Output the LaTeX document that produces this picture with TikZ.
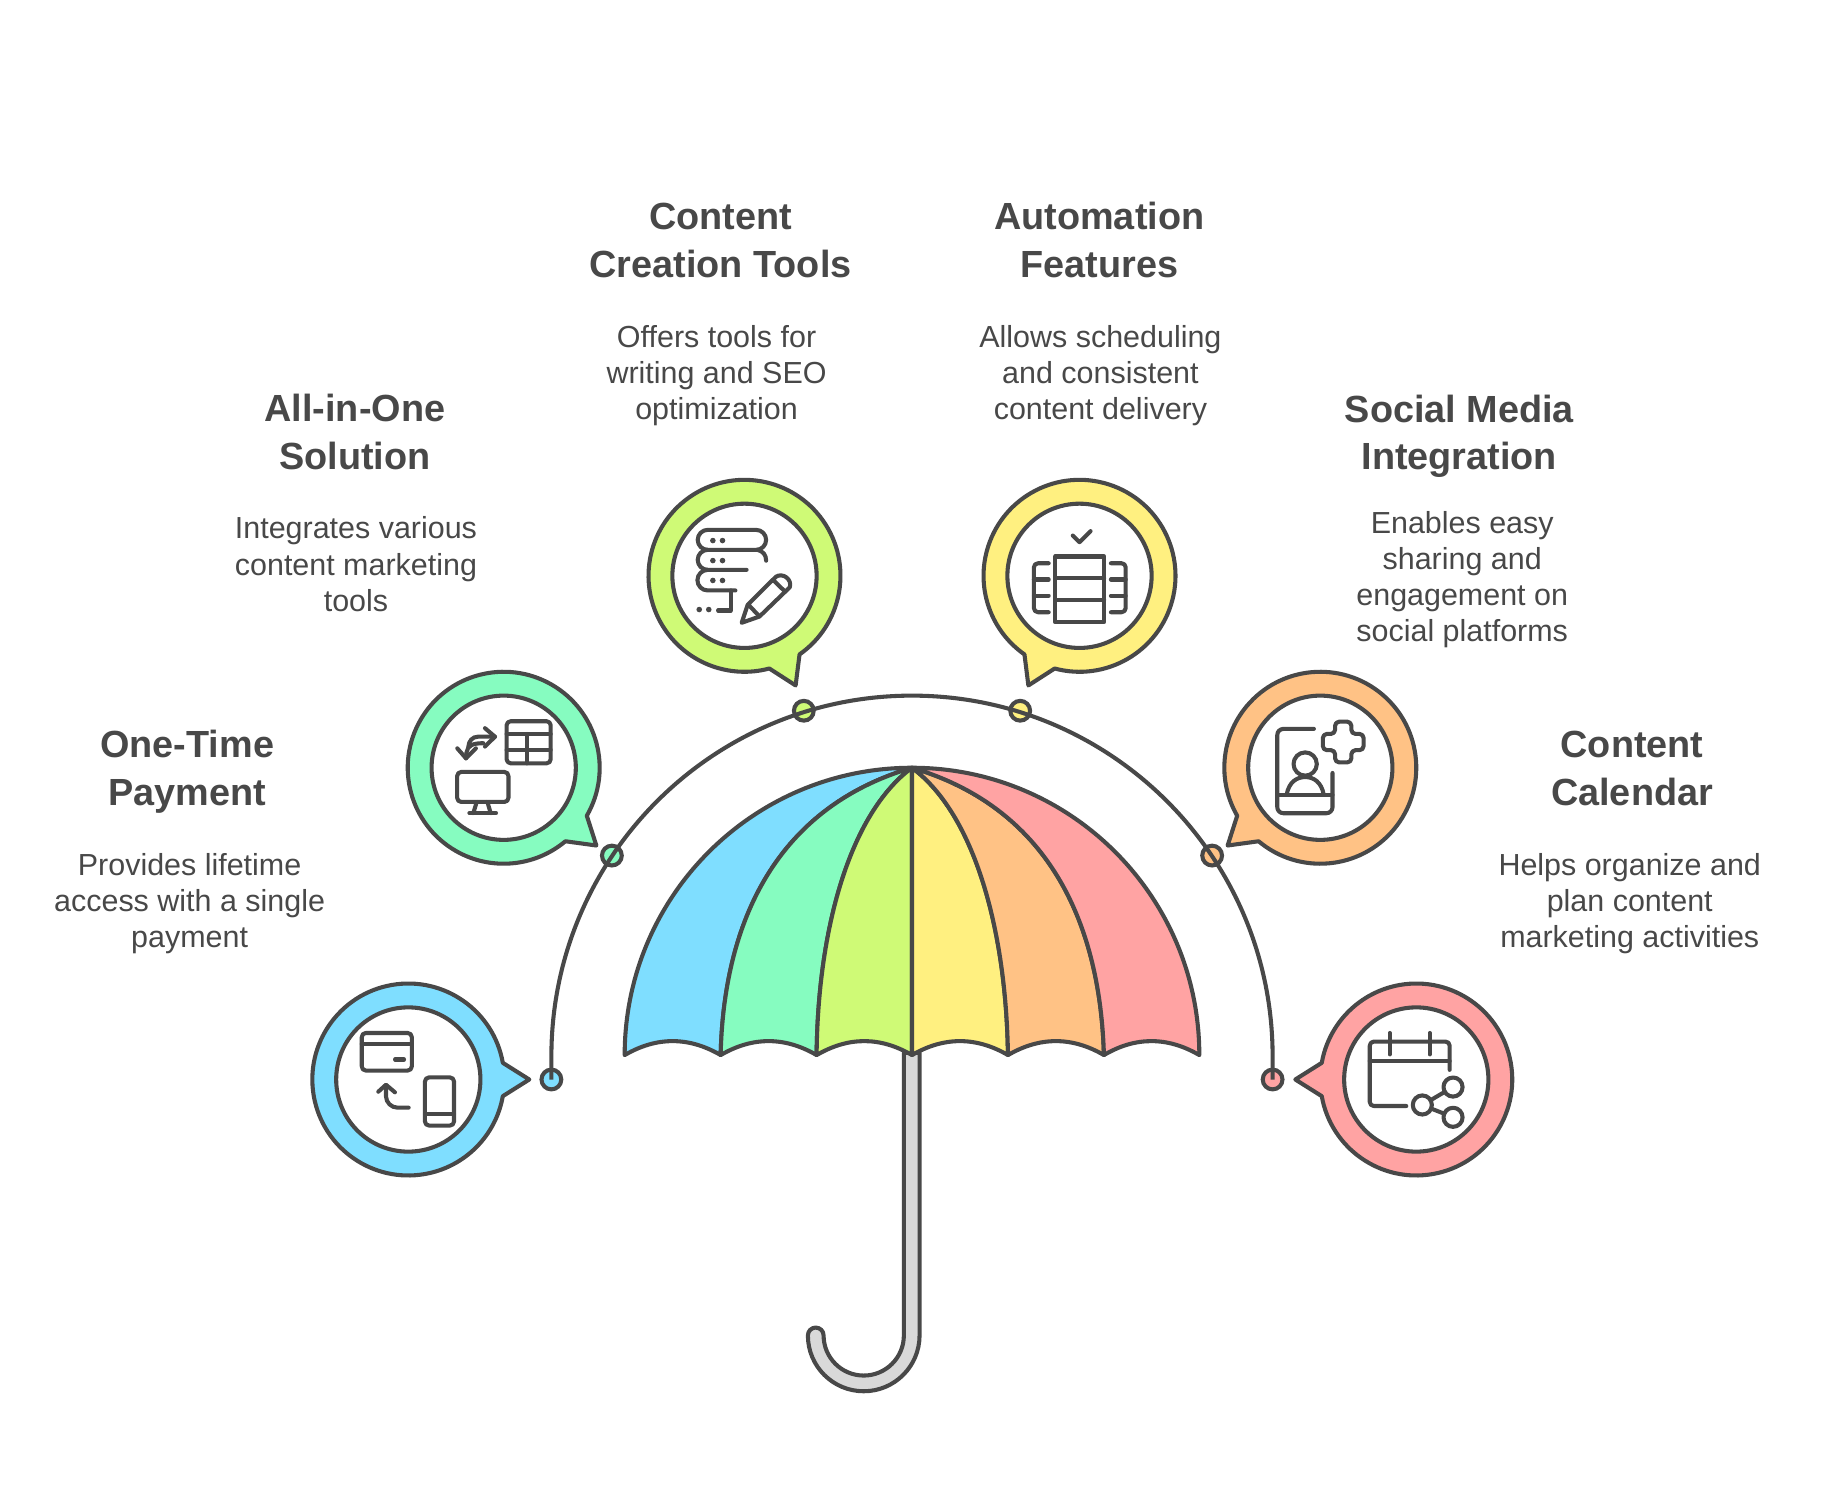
\documentclass[tikz,border=0pt]{standalone}
\usepackage{fontspec}
\setmainfont{Liberation Sans}
\definecolor{inkcol}{HTML}{484848}
\definecolor{payfill}{HTML}{7FDEFF}
\definecolor{allfill}{HTML}{86FCC0}
\definecolor{toolfill}{HTML}{CFFA76}
\definecolor{autofill}{HTML}{FFF080}
\definecolor{socfill}{HTML}{FFC285}
\definecolor{calfill}{HTML}{FFA3A3}
\definecolor{stickfill}{HTML}{D9D9D9}
\tikzset{
  ink/.style={line width=0.35mm, color=inkcol, line join=round},
  icon/.style={ink, line cap=round},
  dotmark/.style={circle, draw=inkcol, line width=0.35mm, inner sep=0pt, minimum size=1.7mm},
  headtext/.style={align=center, text=inkcol, font=\fontsize{9.25}{11.66}\selectfont\bfseries},
  bodytext/.style={align=center, text=inkcol, font=\fontsize{7.45}{8.82}\selectfont},
}
\begin{document}
\begin{tikzpicture}[x=0.1mm, y=0.1mm]
      \useasboundingbox (0, 0) rectangle (1568, 1280);

      % handle
      \draw[ink, fill=stickfill] (777, 375) -- (777, 132) arc (0:-180:34.5) arc (0:180:6.75) arc (180:360:48) -- (790.5, 375) -- cycle;

      % canopy
      \draw[ink, fill=payfill] (537, 373) arc (180:90:247) .. controls (662, 584) and (622, 480) .. (619.5, 373) .. controls (592, 389) and (564.5, 389) .. (537, 373) -- cycle;
      \draw[ink, fill=allfill] (619.5, 373) .. controls (622, 480) and (662, 584) .. (784, 620) .. controls (730, 580) and (703, 480) .. (702, 373) .. controls (674.5, 389) and (647, 389) .. (619.5, 373) -- cycle;
      \draw[ink, fill=toolfill] (702, 373) .. controls (703, 480) and (730, 580) .. (784, 620) -- (784, 373) .. controls (756.5, 389) and (729.5, 389) .. (702, 373) -- cycle;
      \draw[ink, fill=autofill] (866.5, 373) .. controls (865, 480) and (838, 580) .. (784, 620) -- (784, 373) .. controls (811.5, 389) and (839, 389) .. (866.5, 373) -- cycle;
      \draw[ink, fill=socfill] (949, 373) .. controls (946, 480) and (906, 584) .. (784, 620) .. controls (838, 580) and (865, 480) .. (866.5, 373) .. controls (894, 389) and (921.5, 389) .. (949, 373) -- cycle;
      \draw[ink, fill=calfill] (1031, 373) arc (0:90:247) .. controls (906, 584) and (946, 480) .. (949, 373) .. controls (976, 389) and (1003.5, 389) .. (1031, 373) -- cycle;

      % dots and the arc through them
      \node[dotmark, fill=payfill] (dotpay) at (474, 352) {};
      \node[dotmark, fill=allfill] (dotall) at (526, 544.5) {};
      \node[dotmark, fill=toolfill] (dottool) at (691, 669) {};
      \node[dotmark, fill=autofill] (dotauto) at (877, 669) {};
      \node[dotmark, fill=socfill] (dotsoc) at (1042, 544.5) {};
      \node[dotmark, fill=calfill] (dotcal) at (1094, 352) {};
      \draw[ink] (dotpay.center) -- ++(0, 20) arc (180:0:310) -- (dotcal.center);

      % bubbles
      \draw[ink, fill=payfill, shift={(351, 352)}] (10:82.5) arc (10:350:82.5) -- (0:104) -- cycle;
      \draw[ink, fill=white] (351, 352) circle (62);
      \draw[ink, fill=allfill, shift={(433, 620)}, rotate=-40] (10:82.5) arc (10:350:82.5) -- (0:104) -- cycle;
      \draw[ink, fill=white] (433, 620) circle (62);
      \draw[ink, fill=toolfill, shift={(640, 785)}, rotate=-65] (10:82.5) arc (10:350:82.5) -- (0:104) -- cycle;
      \draw[ink, fill=white] (640, 785) circle (62);
      \draw[ink, fill=autofill, shift={(928, 785)}, rotate=-115] (10:82.5) arc (10:350:82.5) -- (0:104) -- cycle;
      \draw[ink, fill=white] (928, 785) circle (62);
      \draw[ink, fill=socfill, shift={(1135, 620)}, rotate=-140] (10:82.5) arc (10:350:82.5) -- (0:104) -- cycle;
      \draw[ink, fill=white] (1135, 620) circle (62);
      \draw[ink, fill=calfill, shift={(1217.5, 352)}, rotate=180] (10:82.5) arc (10:350:82.5) -- (0:104) -- cycle;
      \draw[ink, fill=white] (1217.5, 352) circle (62);

      % card and phone
      \begin{scope}[shift={(351, 352)}]
      \draw[icon, rounded corners=1pt] (-40, 40) rectangle (3, 7.7);
      \draw[icon] (-40, 30.5) -- (3, 30.5);
      \draw[icon] (-11.4, 17.2) -- (-3.7, 17.2);
      \draw[icon, rounded corners=1pt] (14.3, 1.8) rectangle (39.3, -39.6);
      \draw[icon] (14.3, -29.6) -- (39.3, -29.6);
      \draw[icon] (0.3, -24.2) -- (-9.2, -24.2) arc (270:180:10) -- (-19.2, -5);
      \draw[icon] (-25.8, -10.5) -- (-19.2, -4.5) -- (-11.5, -11);
      \end{scope}

      % table and monitor
      \begin{scope}[shift={(433, 620)}]
      \draw[icon, rounded corners=1pt] (2.5, 40) rectangle (40.4, 3.8);
      \draw[icon] (2.5, 29) -- (40.4, 29);
      \draw[icon] (2.5, 15.6) -- (40.4, 15.6);
      \draw[icon] (19.7, 29) -- (19.7, 3.8);
      \draw[icon, rounded corners=1pt] (-40, -3.6) rectangle (4.1, -29.4);
      \draw[icon] (-23.2, -29.4) -- (-26.1, -39);
      \draw[icon] (-14, -29.4) -- (-11.2, -39);
      \draw[icon] (-29.5, -39) -- (-6.6, -39);
      \draw[icon] (-7.5, 26.7) -- (-22, 26.7) .. controls (-27, 26.7) and (-30, 23) .. (-30.4, 18);
      \draw[icon] (-16.1, 34) -- (-7.5, 26.7) -- (-16.1, 18.2);
      \draw[icon] (-32.4, 8.1) -- (-32, 13) .. controls (-31, 19) and (-27, 21.1) .. (-17.5, 21.1);
      \draw[icon] (-39.9, 16.7) -- (-32.4, 8.1) -- (-23.9, 16.7);
      \end{scope}

      % server stack and pencil
      \begin{scope}[shift={(640, 785)}]
      \draw[icon] (-31.6, 22.3) arc (270:90:8.6) -- (10, 39.5) arc (90:-90:8.6) -- cycle;
      \draw[icon] (-31.6, 22.3) arc (90:270:8.6) -- (1.8, 5.1);
      \draw[icon] (11.3, 22.3) .. controls (16, 21) and (18.6, 18) .. (18.6, 13);
      \draw[icon] (-31.6, 5.1) arc (90:270:8.85) -- (-7.8, -12.6);
      \draw[icon] (-11.9, -12.6) -- (-11.9, -29.8) -- (-22.7, -29.8);
      \fill[inkcol] (-38.9, -29) circle (2.4);
      \fill[inkcol] (-30.7, -29) circle (2.4);
      \fill[inkcol] (-27.2, 30.3) circle (2.4);
      \fill[inkcol] (-18.9, 30.3) circle (2.4);
      \fill[inkcol] (-27.2, 13.1) circle (2.4);
      \fill[inkcol] (-18.9, 13.1) circle (2.4);
      \fill[inkcol] (-27.2, -4) circle (2.4);
      \fill[inkcol] (-18.9, -4) circle (2.4);
      \draw[icon] (-2.4, -40.4) -- (2.7, -25) -- (27, -0.8) .. controls (33, 3) and (41, -3) .. (39, -9.8) -- (12.9, -35) -- cycle;
      \draw[icon] (25.6, -4.6) -- (34.5, -13.2);
      \draw[icon] (4, -25.5) -- (12, -34);
      \end{scope}

      % check and film strip
      \begin{scope}[shift={(928, 785)}]
      \draw[icon] (-5.8, 34.6) -- (0, 28.9) -- (9.5, 38.4);
      \draw[icon] (-20.7, 16.6) rectangle (21.2, -39.9);
      \draw[icon] (-20.7, -2) -- (21.2, -2);
      \draw[icon] (-20.7, -20.7) -- (21.2, -20.7);
      \draw[icon, rounded corners=1pt] (-26.5, 10.8) -- (-39.2, 10.8) -- (-39.2, -31.3) -- (-26.5, -31.3);
      \draw[icon] (-39.2, -3.2) -- (-26.5, -3.2);
      \draw[icon] (-39.2, -17) -- (-26.5, -17);
      \draw[icon, rounded corners=1pt] (27, 10.8) -- (39.7, 10.8) -- (39.7, -31.3) -- (27, -31.3);
      \draw[icon] (39.7, -3.2) -- (27, -3.2);
      \draw[icon] (39.7, -17) -- (27, -17);
      \end{scope}

      % profile and plus
      \begin{scope}[shift={(1135, 620)}]
      \draw[icon, rounded corners=1.5pt] (-5.5, 33.4) -- (-37, 33.4) -- (-37, -39.1) -- (10.5, -39.1) -- (10.5, -4.5);
      \draw[icon] (-37, -23.4) -- (10.5, -23.4);
      \draw[icon] (-13, 3.2) circle (10);
      \draw[icon] (-29, -23.4) .. controls (-27, -12) and (-20, -8) .. (-13, -8) .. controls (-6, -8) and (1, -12) .. (3, -23.4);
      \draw[icon, rounded corners=1pt] (12.7, 39.6) -- (26.7, 39.6) -- (26.7, 29.1) -- (37.2, 29.1) -- (37.2, 15.1) -- (26.7, 15.1) -- (26.7, 4.6) -- (12.7, 4.6) -- (12.7, 15.1) -- (2.2, 15.1) -- (2.2, 29.1) -- (12.7, 29.1) -- cycle;
      \end{scope}

      % calendar and share
      \begin{scope}[shift={(1217.5, 352)}]
      \draw[icon, rounded corners=1pt] (-8.6, -22.8) -- (-40, -22.8) -- (-40, 32.6) -- (28.7, 32.6) -- (28.7, 8.3);
      \draw[icon] (-40, 15.7) -- (28.7, 15.7);
      \draw[icon] (-22.9, 40) -- (-22.9, 21.6);
      \draw[icon] (11.5, 40) -- (11.5, 21.6);
      \draw[icon] (5.2, -21.9) circle (8.2);
      \draw[icon] (31.6, -6.5) circle (8.2);
      \draw[icon] (31.6, -32.5) circle (8.2);
      \draw[icon] (12.3, -17.8) -- (24.5, -10.6);
      \draw[icon] (12.8, -25) -- (24, -29.4);
      \end{scope}

      % texts
      \node[headtext] (headpay) at (161, 616.5) {One-Time\\Payment};
      \node[bodytext] (bodypay) at (163, 503) {Provides lifetime\\access with a single\\payment};
      \node[headtext] (headall) at (305, 908.5) {All-in-One\\Solution};
      \node[bodytext] (bodyall) at (306, 795) {Integrates various\\content marketing\\tools};
      \node[headtext] (headtool) at (619.5, 1073.5) {Content\\Creation Tools};
      \node[bodytext] (bodytool) at (616, 957) {Offers tools for\\writing and SEO\\optimization};
      \node[headtext] (headauto) at (945, 1073.5) {Automation\\Features};
      \node[bodytext] (bodyauto) at (946, 957) {Allows scheduling\\and consistent\\content delivery};
      \node[headtext] (headsoc) at (1254.5, 905) {Social Media\\Integration};
      \node[bodytext] (bodysoc) at (1257, 782) {Enables easy\\sharing and\\engagement on\\social platforms};
      \node[headtext] (headcal) at (1403, 619.5) {Content\\Calendar};
      \node[bodytext] (bodycal) at (1401, 503) {Helps organize and\\plan content\\marketing activities};

\end{tikzpicture}
\end{document}
